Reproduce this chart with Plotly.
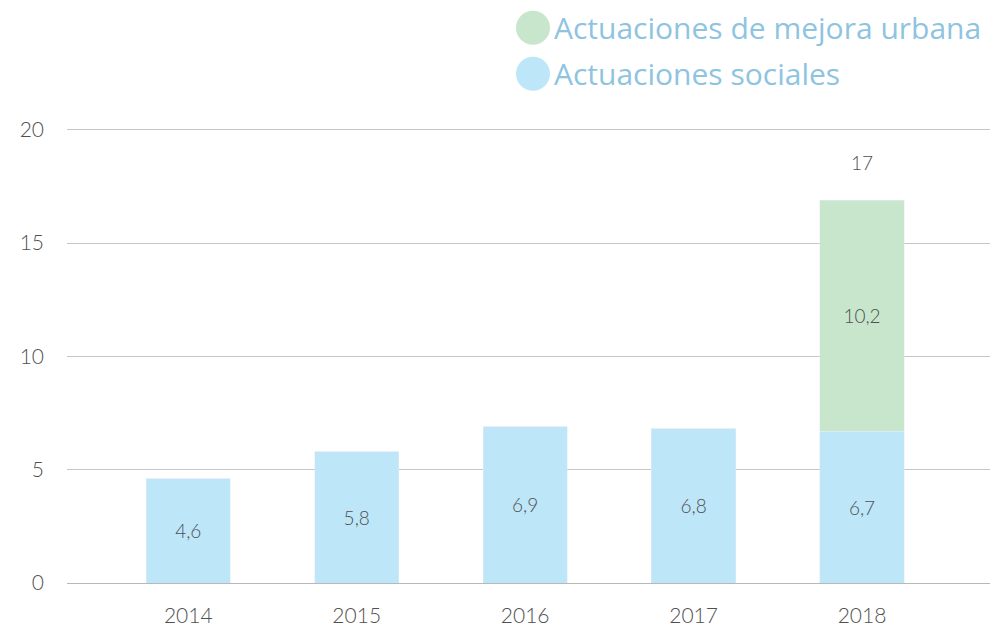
import plotly.graph_objects as go

years = ["2014", "2015", "2016", "2017", "2018"]
sociales = [4.6, 5.8, 6.9, 6.8, 6.7]
mejora = [0, 0, 0, 0, 10.2]
totals = [None, None, None, None, 17]
series_names = ["Actuaciones de mejora urbana", "Actuaciones sociales"]

BLUE = "#bde6f9"
GREEN = "#c8e6cc"
LEGEND_TXT = "#8ec4df"
TXT = "#505050"

# page body has an 8px margin, so the figure is sized to fit inside the window
W, H = 995, 619
YMAX = 20.3
PX_PER_UNIT = 453 / 20
PL, PR, PB = 59, 982, 575            # plot area in figure pixels
PT = PB - YMAX * PX_PER_UNIT


def fmt(v):
    return ("%.1f" % v).replace(".", ",")


def px(x):
    return (x - PL) / (PR - PL)


def py(y):
    return (PB - y) / (PB - PT)


fig = go.Figure()
fig.add_trace(go.Bar(
    x=years, y=sociales, name=series_names[1], marker_color=BLUE, width=0.5,
    text=[fmt(v) for v in sociales], textposition="inside", insidetextanchor="middle",
    textfont=dict(family="Lato", size=19, color=TXT, weight=300), showlegend=False,
))
fig.add_trace(go.Bar(
    x=years, y=mejora, name=series_names[0], marker_color=GREEN, width=0.5,
    text=[fmt(v) if v else "" for v in mejora], textposition="inside", insidetextanchor="middle",
    textfont=dict(family="Lato", size=19, color=TXT, weight=300), showlegend=False,
))

# total labels above stacked bars (x given as category index)
for i, t in enumerate(totals):
    if t is not None:
        fig.add_annotation(x=i, y=t, text=str(t), showarrow=False, yshift=35,
                           font=dict(family="Lato", size=19, color=TXT, weight=300))

# custom legend: circles + text
legend_colors = [GREEN, BLUE]
legend_y = [20, 66]
for name, col, ly in zip(series_names, legend_colors, legend_y):
    fig.add_shape(type="circle", xref="paper", yref="paper",
                  x0=px(508), x1=px(542), y0=py(ly + 17), y1=py(ly - 17),
                  fillcolor=col, line_width=0)
    fig.add_annotation(xref="paper", yref="paper", x=px(544), y=py(ly),
                       text=name, showarrow=False, xanchor="left", yanchor="middle",
                       font=dict(family="Open Sans", size=30, color=LEGEND_TXT))

fig.update_layout(
    barmode="stack",
    width=W, height=H,
    margin=dict(l=PL, r=W - PR, t=PT, b=H - PB, autoexpand=False),
    paper_bgcolor="white",
    plot_bgcolor="white",
    font=dict(family="Lato", size=20, color=TXT),
)
fig.update_xaxes(range=[-0.72, 4.76], showgrid=False, showline=False, ticks="", automargin=False,
                 ticklabelstandoff=18, tickfont=dict(family="Lato", size=21, color=TXT, weight=300))
fig.update_yaxes(range=[0, YMAX], tickvals=[0, 5, 10, 15, 20], showgrid=True,
                 gridcolor="#c6c6c6", gridwidth=1,
                 zeroline=True, zerolinecolor="#b8b8b8", zerolinewidth=1, automargin=False,
                 showline=False, ticks="", ticklabelstandoff=22,
                 tickfont=dict(family="Lato", size=21, color=TXT, weight=300))

fig.write_html("out.html")
